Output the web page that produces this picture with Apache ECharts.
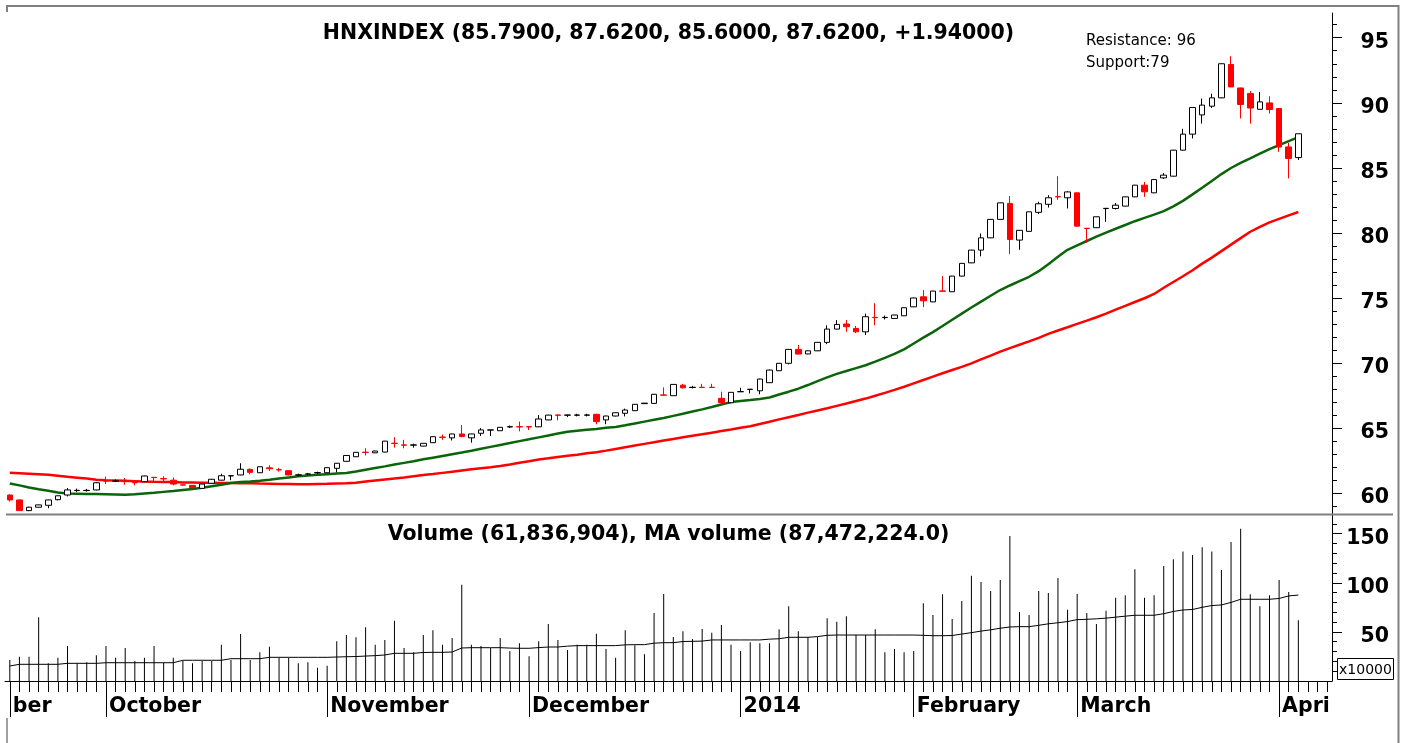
<!DOCTYPE html>
<html><head><meta charset="utf-8">
<script src="https://cdn.jsdelivr.net/npm/echarts@6/dist/echarts.min.js"></script>
<style>html,body{margin:0;padding:0;background:#fff}#c{width:1407px;height:743px}</style>
</head><body><div id="c"></div><script>
// ---- data ----
const opens=[59.86,59.48,58.66,58.92,59.07,59.5,59.86,60.2,60.2,60.25,
60.95,60.92,60.91,60.82,60.88,61.22,61.12,61.0,60.64,60.6,
60.37,60.76,61.0,61.33,61.4,61.83,61.57,61.95,61.81,61.73,
61.39,61.46,61.56,61.57,61.91,62.45,62.8,63.15,63.1,63.16,
63.84,63.71,63.69,63.62,63.88,64.31,64.25,64.55,64.25,64.6,
64.85,64.8,65.09,65.11,65.11,65.1,65.63,66.01,65.99,65.99,
65.99,66.06,65.63,65.93,66.14,66.34,66.88,66.9,67.55,67.49,
68.3,68.12,68.14,68.14,67.29,66.95,67.79,67.97,67.87,68.49,
69.41,69.98,71.05,70.7,70.94,71.59,72.61,73.0,72.66,72.4,
73.51,73.49,73.43,73.63,74.32,75.09,74.7,75.54,75.48,76.68,
77.7,78.68,79.62,81.04,82.27,79.45,80.12,81.58,82.2,82.79,
82.7,83.08,80.36,80.4,81.87,81.88,82.06,82.77,83.67,83.08,
84.23,84.36,86.36,87.59,89.07,89.74,90.38,92.94,91.14,90.71,
89.5,89.99,89.56,86.61,85.79];
const closes=[59.48,58.66,58.92,59.1,59.48,59.8,60.25,60.22,60.22,60.8,
60.93,60.94,60.89,60.8,61.32,61.2,61.1,60.7,60.62,60.42,
60.7,61.07,61.34,61.34,61.84,61.6,62.03,61.88,61.79,61.4,
61.41,61.48,61.58,61.96,62.3,62.9,63.14,63.13,63.24,64.0,
63.82,63.69,63.71,63.83,64.34,64.29,64.55,64.35,64.55,64.86,
64.86,65.06,65.11,65.09,65.09,65.7,66.0,65.99,66.01,66.01,
66.01,65.5,65.93,66.18,66.39,66.83,66.92,67.6,67.53,68.36,
68.1,68.14,68.12,68.12,66.95,67.75,67.81,67.99,68.77,69.46,
69.98,71.05,70.69,70.94,71.59,72.61,72.97,72.79,72.4,73.56,
73.49,73.51,73.69,74.25,75.0,74.78,75.53,75.52,76.68,77.66,
78.68,79.62,81.04,82.31,79.5,80.2,81.62,82.24,82.7,82.77,
83.15,80.52,80.34,81.24,81.89,82.13,82.77,83.67,83.16,84.1,
84.44,86.36,87.59,89.64,89.82,90.38,93.0,91.22,89.87,89.6,
90.07,89.48,86.6,85.72,87.62];
const lows=[59.35,58.64,58.62,58.9,58.84,59.45,59.75,60.1,60.12,60.22,
60.7,60.85,60.65,60.6,60.85,60.88,60.9,60.6,60.6,60.4,
60.35,60.74,60.98,61.0,61.38,61.45,61.55,61.7,61.65,61.38,
61.3,61.38,61.48,61.55,61.6,62.42,62.78,62.9,63.08,63.14,
63.5,63.45,63.5,63.6,63.86,64.1,64.05,64.3,63.88,64.4,
64.4,64.78,65.0,64.75,64.85,65.08,65.6,65.6,65.85,65.9,
65.9,65.3,65.3,65.9,65.9,66.32,66.86,66.88,67.52,67.47,
68.05,68.05,68.1,68.1,66.8,66.93,67.78,67.67,67.6,68.47,
69.39,69.9,70.67,70.68,70.92,71.45,72.59,72.4,72.3,72.15,
72.9,73.35,73.41,73.61,74.3,74.3,74.68,75.5,75.46,76.66,
77.68,78.2,79.6,81.02,78.37,78.7,80.1,81.45,81.95,82.55,
81.88,80.5,79.24,80.38,80.85,81.8,82.04,82.75,82.77,83.06,
84.15,84.34,86.34,87.26,88.4,89.6,90.36,91.2,88.8,88.4,
89.48,89.18,86.23,84.19,85.6];
const highs=[59.9,59.5,58.95,59.12,59.5,59.82,60.4,60.35,60.33,60.85,
61.27,61.05,61.17,60.85,61.35,61.23,61.3,61.2,60.66,60.62,
60.72,61.1,61.5,61.35,62.3,61.9,62.05,62.15,61.95,61.75,
61.5,61.55,61.65,61.98,62.32,62.93,63.16,63.45,63.26,64.02,
64.3,64.1,63.8,63.85,64.36,64.5,64.57,65.24,64.57,65.0,
64.87,65.08,65.2,65.5,65.12,66.0,66.02,66.02,66.02,66.1,
66.1,66.1,65.95,66.2,66.5,66.85,66.94,67.62,68.13,68.38,
68.4,68.25,68.4,68.4,67.8,67.77,68.1,68.0,68.8,69.5,
70.0,71.07,71.38,70.96,71.61,72.9,73.3,73.3,72.85,73.8,
74.6,73.65,73.71,74.27,75.02,75.6,75.55,76.68,76.7,77.68,
78.7,79.96,81.06,82.33,82.83,80.22,81.64,82.4,82.9,84.36,
83.2,83.1,80.37,81.26,81.9,82.3,82.79,83.69,83.92,84.12,
84.6,86.38,88.0,89.66,90.33,90.7,93.02,93.58,91.16,90.9,
90.84,90.5,89.58,86.92,87.62];
const maShort=[60.75,60.6,60.43,60.3,60.18,60.05,59.98,59.96,59.94,59.93,
59.91,59.89,59.87,59.91,59.97,60.03,60.1,60.17,60.25,60.32,
60.41,60.53,60.65,60.78,60.85,60.9,60.96,61.03,61.12,61.21,
61.3,61.36,61.41,61.46,61.51,61.55,61.66,61.8,61.93,62.06,
62.2,62.33,62.46,62.6,62.73,62.86,62.99,63.12,63.26,63.41,
63.56,63.71,63.85,64.0,64.14,64.29,64.44,64.58,64.72,64.8,
64.87,64.94,65.02,65.09,65.22,65.36,65.5,65.64,65.78,65.94,
66.1,66.27,66.44,66.62,66.81,67.0,67.09,67.16,67.24,67.35,
67.58,67.8,68.03,68.31,68.61,68.9,69.17,69.39,69.61,69.83,
70.11,70.4,70.7,71.05,71.5,71.95,72.38,72.85,73.33,73.8,
74.27,74.72,75.17,75.61,75.96,76.3,76.63,77.06,77.6,78.17,
78.7,79.05,79.38,79.71,80.02,80.32,80.61,80.9,81.16,81.41,
81.67,82.04,82.46,82.96,83.47,83.99,84.52,84.99,85.38,85.73,
86.09,86.44,86.75,87.05,87.36];
const maLong=[61.57,61.53,61.49,61.45,61.41,61.34,61.26,61.19,61.12,61.04,
61.0,60.98,60.95,60.92,60.89,60.87,60.86,60.85,60.83,60.82,
60.81,60.8,60.79,60.78,60.77,60.76,60.74,60.73,60.71,60.7,
60.68,60.69,60.71,60.72,60.74,60.76,60.81,60.89,60.97,61.05,
61.13,61.21,61.3,61.39,61.47,61.56,61.65,61.74,61.83,61.92,
62.0,62.09,62.21,62.34,62.46,62.59,62.68,62.78,62.87,62.96,
63.06,63.15,63.27,63.4,63.53,63.66,63.79,63.92,64.05,64.17,
64.29,64.41,64.53,64.65,64.77,64.89,65.02,65.15,65.32,65.49,
65.67,65.84,66.01,66.19,66.36,66.53,66.71,66.89,67.08,67.27,
67.49,67.71,67.94,68.18,68.44,68.7,68.96,69.22,69.47,69.71,
69.98,70.28,70.57,70.88,71.15,71.41,71.67,71.94,72.24,72.5,
72.75,73.01,73.26,73.52,73.8,74.1,74.39,74.69,74.98,75.31,
75.79,76.23,76.67,77.13,77.64,78.1,78.6,79.1,79.6,80.09,
80.46,80.81,81.08,81.35,81.61];
const volumes=[21.4,24.7,24.7,64.9,18.0,23.7,35.6,18.0,19.0,26.1,
35.6,23.7,33.6,20.4,23.7,35.6,18.7,23.7,20.4,18.0,
20.4,20.4,37.0,21.4,47.9,21.4,29.2,34.9,23.7,23.7,
18.0,19.0,13.6,15.6,40.4,46.8,44.5,54.7,37.0,41.8,
61.4,33.6,29.2,46.8,51.6,37.0,43.8,98.1,37.0,35.6,
33.6,43.8,30.5,38.4,25.1,40.4,58.0,41.8,31.6,37.0,
37.0,48.2,32.6,23.7,51.6,36.3,27.2,69.2,88.6,44.8,
50.6,42.8,53.0,49.2,57.0,37.0,30.5,39.4,38.4,38.4,
52.6,76.1,50.6,44.8,44.8,63.8,60.4,65.9,46.8,46.8,
52.6,29.2,32.6,29.2,30.5,79.1,67.2,88.3,63.1,81.5,
107.2,100.8,91.6,102.9,147.7,70.3,67.2,91.6,89.6,104.9,
72.6,88.6,69.2,58.0,71.6,84.8,87.3,113.7,84.8,87.3,
117.1,123.9,131.7,128.3,136.2,131.7,113.0,141.5,155.1,88.3,
76.1,87.3,102.9,90.6,61.8];
const maVolume=[15.3,17.0,17.0,17.0,17.0,17.0,18.0,18.0,18.0,18.0,
18.6,18.6,18.6,18.6,18.6,18.6,18.6,18.6,21.1,21.1,
21.1,21.1,21.1,22.7,22.7,22.7,22.7,24.1,24.1,24.1,
24.1,24.1,24.1,24.1,24.4,24.7,24.9,25.4,25.8,26.5,
28.2,28.2,28.2,29.0,29.2,29.2,29.5,33.6,33.9,33.9,
33.9,33.9,33.5,33.3,33.3,34.0,34.6,34.6,35.5,36.0,
36.0,36.0,36.0,36.0,36.8,37.0,37.0,38.5,39.0,39.0,
40.2,40.4,40.6,41.8,41.8,41.8,41.8,41.8,41.8,42.6,
43.0,44.5,44.5,44.5,45.2,46.5,46.8,46.8,46.8,46.8,
46.8,46.8,46.8,46.8,46.8,46.5,46.1,46.1,46.3,47.8,
49.2,50.8,52.1,53.7,55.0,55.3,55.3,56.7,58.2,59.3,
60.5,62.5,62.8,63.3,64.0,65.0,66.0,66.9,66.9,66.9,
68.5,70.8,72.3,72.8,75.0,76.8,77.4,80.0,83.2,83.2,
83.2,83.2,84.0,86.6,87.5];
const emptySlots=3;
const monthStarts=[0,10,33,54,76,94,111,132];
const monthLabels=['ber','October','November','December','2014','February','March','Apri'];
const priceTicks=[60,65,70,75,80,85,90,95];
const volumeTicks=[50,100,150];
const titleText='HNXINDEX (85.7900, 87.6200, 85.6000, 87.6200, +1.94000)';
const volumeTitle='Volume (61,836,904), MA volume (87,472,224.0)';
const noteLines=['Resistance: 96','Support:79'];
const volumeUnit='x10000';

// ---- build ----
const nSlots=opens.length+emptySlots;
const categories=Array.from({length:nSlots},(_,i)=>String(i));
const candles=opens.map((o,i)=>[o,closes[i],lows[i],highs[i]]);
const priceMinor=[];for(let v=59;v<=96;v++)priceMinor.push(v);
const volMinor=[];for(let v=10;v<=170;v+=10)volMinor.push(v);
// labels sit a few pixels below their tick in the reference
const priceLabelShift=0.36, volLabelShift=5;
const priceLabelPos=priceTicks.map(v=>v-priceLabelShift);
const volLabelPos=volumeTicks.map(v=>v-volLabelShift);
const F='"DejaVu Sans", sans-serif';
const L=5,R=1332;
const isMonth=(i)=>monthStarts.indexOf(i)>=0;
const gray='#808080';

const chart=echarts.init(document.getElementById('c'),null,{renderer:'canvas'});
const option={
  animation:false,
  backgroundColor:'#fff',
  grid:[{left:L,width:R-L,top:13,height:501},{left:L,width:R-L,top:514,height:167}],
  xAxis:[
    {gridIndex:0,type:'category',data:categories,boundaryGap:true,axisLine:{show:false},axisTick:{show:false},axisLabel:{show:false},splitLine:{show:false}},
    {gridIndex:1,type:'category',position:'bottom',data:categories,boundaryGap:true,
      axisLine:{show:true,lineStyle:{color:'#000',width:1}},
      axisTick:{show:true,interval:0,alignWithLabel:true,length:11,lineStyle:{color:'#000',width:1}},
      axisLabel:{show:false},splitLine:{show:false}},
    {gridIndex:1,type:'category',position:'bottom',offset:0,data:categories,boundaryGap:true,
      axisLine:{show:false},
      axisTick:{show:true,alignWithLabel:true,interval:(i)=>isMonth(i),length:36,lineStyle:{color:'#000',width:1}},
      axisLabel:{show:true,interval:(i)=>isMonth(i),formatter:(v,i)=>monthLabels[monthStarts.indexOf(i)]||'',
        align:'left',verticalAlign:'middle',margin:26,padding:[0,0,0,3],
        fontFamily:F,fontWeight:'bold',fontSize:20.5,color:'#000'},
      splitLine:{show:false}}
  ],
  yAxis:[
    {gridIndex:0,type:'value',position:'right',min:58.4,max:96.9,scale:true,splitLine:{show:false},
      axisLine:{show:true,lineStyle:{color:'#000',width:1}},
      axisTick:{show:true,customValues:priceTicks,length:10,lineStyle:{color:'#000'}},
      axisLabel:{customValues:priceLabelPos,formatter:v=>String(Math.round(v/5)*5),align:'right',margin:57,fontFamily:F,fontWeight:'bold',fontSize:20.5,color:'#000'}},
    {gridIndex:0,type:'value',position:'right',min:58.4,max:96.9,scale:true,splitLine:{show:false},
      axisLine:{show:false},
      axisTick:{show:true,customValues:priceMinor,length:5,lineStyle:{color:'#000'}},
      axisLabel:{show:false}},
    {gridIndex:1,type:'value',position:'right',min:0,max:170,splitLine:{show:false},
      axisLine:{show:true,lineStyle:{color:'#000',width:1}},
      axisTick:{show:true,customValues:volumeTicks,length:10,lineStyle:{color:'#000'}},
      axisLabel:{customValues:volLabelPos,formatter:v=>String(Math.round(v/50)*50),align:'right',margin:57,fontFamily:F,fontWeight:'bold',fontSize:20.5,color:'#000'}},
    {gridIndex:1,type:'value',position:'right',min:0,max:170,splitLine:{show:false},
      axisLine:{show:false},
      axisTick:{show:true,customValues:volMinor,length:5,lineStyle:{color:'#000'}},
      axisLabel:{show:false}}
  ],
  series:[
    {type:'line',xAxisIndex:0,yAxisIndex:0,data:maLong,symbol:'none',lineStyle:{color:'#ff0000',width:2.5},z:2},
    {type:'line',xAxisIndex:0,yAxisIndex:0,data:maShort,symbol:'none',lineStyle:{color:'#0a640a',width:2.5},z:2},
    {type:'candlestick',xAxisIndex:0,yAxisIndex:0,data:candles,barWidth:6,z:3,
      itemStyle:{color:'#ffffff',color0:'#ff0000',borderColor:'#000000',borderColor0:'#ff0000',borderWidth:1}},
    {type:'bar',xAxisIndex:1,yAxisIndex:2,data:volumes,barWidth:1,itemStyle:{color:'#000'}},
    {type:'line',xAxisIndex:1,yAxisIndex:2,data:maVolume,symbol:'none',lineStyle:{color:'#000',width:1}}
  ],
  graphic:[
    {type:'line',shape:{x1:6,y1:6,x2:1399,y2:6},style:{stroke:gray,lineWidth:2},z:10},
    {type:'line',shape:{x1:1398.5,y1:5,x2:1398.5,y2:743},style:{stroke:gray,lineWidth:2},z:10},
    {type:'line',shape:{x1:7,y1:5,x2:7,y2:12},style:{stroke:gray,lineWidth:2},z:10},
    {type:'line',shape:{x1:7,y1:718,x2:7,y2:743},style:{stroke:gray,lineWidth:1.5},z:10},
    {type:'line',shape:{x1:6,y1:514.5,x2:1393,y2:514.5},style:{stroke:gray,lineWidth:2},z:10},
    {type:'text',x:668.5,y:34,style:{text:titleText,font:'bold 20.5px '+F,fill:'#000',align:'center',verticalAlign:'middle',textAlign:'center',textVerticalAlign:'middle'},z:10},
    {type:'text',x:668.5,y:535,style:{text:volumeTitle,font:'bold 20.5px '+F,fill:'#000',align:'center',verticalAlign:'middle',textAlign:'center',textVerticalAlign:'middle'},z:10},
    {type:'text',x:1086,y:41,style:{text:noteLines[0],font:'15px '+F,fill:'#000',align:'left',verticalAlign:'middle',textAlign:'left',textVerticalAlign:'middle'},z:10},
    {type:'text',x:1086,y:63,style:{text:noteLines[1],font:'15px '+F,fill:'#000',align:'left',verticalAlign:'middle',textAlign:'left',textVerticalAlign:'middle'},z:10},
    {type:'rect',shape:{x:1337.5,y:658.5,width:56,height:21},style:{fill:'#fff',stroke:'#000',lineWidth:1},z:10},
    {type:'text',x:1365.5,y:670,style:{text:volumeUnit,font:'14px '+F,fill:'#000',align:'center',verticalAlign:'middle',textAlign:'center',textVerticalAlign:'middle'},z:11}
  ]
};
chart.setOption(option);
</script></body></html>
